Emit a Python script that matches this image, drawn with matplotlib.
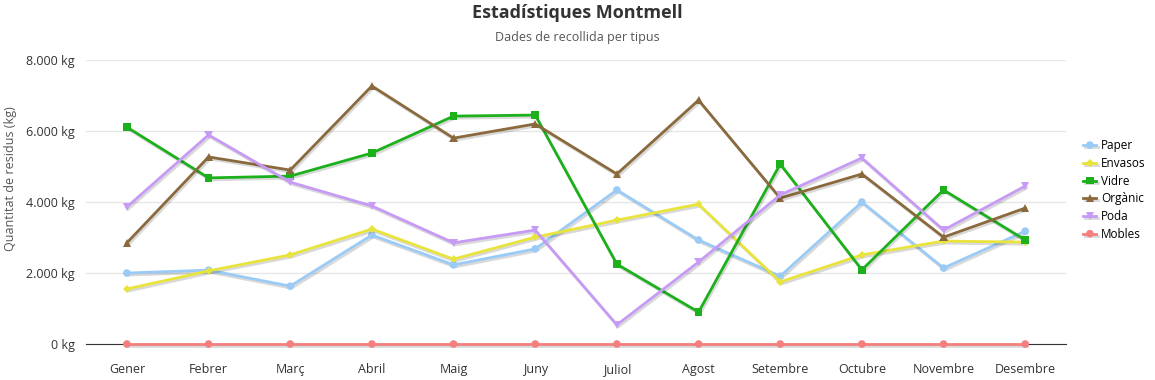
import numpy as np
import matplotlib.pyplot as plt
import matplotlib.patheffects as pe
from matplotlib.ticker import FuncFormatter

plt.rcParams['font.family'] = ['Open Sans', 'DejaVu Sans']

# data
mesos = ['Gener', 'Febrer', 'Març', 'Abril', 'Maig', 'Juny', 'Juliol',
         'Agost', 'Setembre', 'Octubre', 'Novembre', 'Desembre']
paper = [2000, 2080, 1630, 3070, 2230, 2680, 4340, 2930, 1910, 4000, 2140, 3180]
envasos = [1550, 2060, 2510, 3240, 2390, 3010, 3490, 3940, 1750, 2510, 2900, 2870]
vidre = [6110, 4680, 4730, 5380, 6420, 6450, 2250, 900, 5070, 2090, 4340, 2930]
organic = [2850, 5270, 4900, 7270, 5800, 6200, 4790, 6870, 4110, 4790, 3010, 3830]
poda = [3860, 5890, 4560, 3890, 2850, 3210, 540, 2310, 4200, 5240, 3210, 4450]
mobles = [0] * 12

series = [
    ('Paper', paper, '#9acbf7', 'o', 5.5),
    ('Envasos', envasos, '#e8e43c', 'D', 4),
    ('Vidre', vidre, '#1cb01c', 's', 5.5),
    ('Orgànic', organic, '#8a6a3c', '^', 6),
    ('Poda', poda, '#c69af5', 'v', 6),
    ('Mobles', mobles, '#f57f7f', 'o', 5.5),
]

fig = plt.figure(figsize=(11.55, 3.8), dpi=100)
ax = fig.add_axes([0.0745, 0.0947, 0.8485, 0.7473])

x = np.arange(len(mesos))
shadow = [pe.SimpleLineShadow(offset=(1, -1.5), alpha=0.15, shadow_color='black'), pe.Normal()]
for name, vals, col, mk, ms in series:
    ax.plot(x, vals, color=col, marker=mk, markersize=ms, markeredgewidth=0,
            linewidth=2, label=name, path_effects=shadow, zorder=4, clip_on=False)

ax.set_xlim(-0.5, len(mesos) - 0.5)
ax.set_ylim(0, 8000)
ax.set_yticks([0, 2000, 4000, 6000, 8000])
ax.yaxis.set_major_formatter(FuncFormatter(lambda v, p: f'{int(v):,} kg'.replace(',', '.')))
ax.set_xticks(x)
ax.set_xticklabels(mesos)
ax.tick_params(axis='y', length=0, labelsize=9, colors='#333333', pad=8)
ax.tick_params(axis='x', length=0, labelsize=9, colors='#333333', pad=14)
ax.grid(axis='y', color='#e6e6e6', linewidth=1)
ax.set_axisbelow(True)
for s in ['top', 'right', 'left']:
    ax.spines[s].set_visible(False)
ax.spines['bottom'].set_color('#333333')
ax.spines['bottom'].set_zorder(3)

fig.text(0.009, 0.53, 'Quantitat de residus (kg)', rotation=90, ha='center', va='center',
         fontsize=9, color='#555555')
fig.text(0.5, 0.965, 'Estadístiques Montmell', ha='center', va='center',
         fontsize=13, fontweight='bold', color='#333333')
fig.text(0.5, 0.9, 'Dades de recollida per tipus', ha='center', va='center',
         fontsize=9, color='#555555')

h, l = ax.get_legend_handles_labels()
fig.legend(h, l, loc='center left', bbox_to_anchor=(0.938, 0.5), frameon=False,
           fontsize=8.5, handlelength=1.1, labelspacing=0.4, handletextpad=0.4,
           borderaxespad=0, borderpad=0)

fig.savefig('out.png', dpi=100)
